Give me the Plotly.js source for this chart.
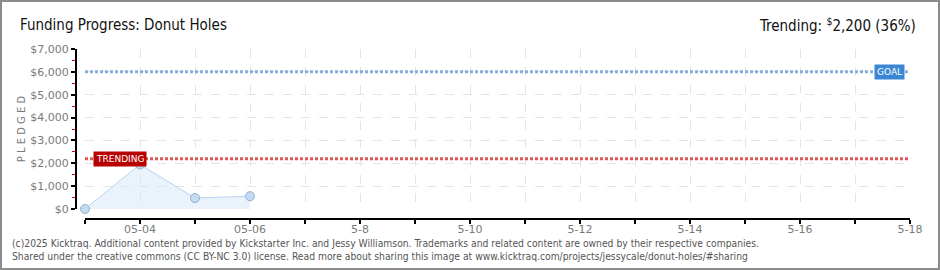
<!DOCTYPE html>
<html>
<head>
<meta charset="utf-8">
<script src="https://cdn.plot.ly/plotly-3.0.1.min.js"></script>
<style>
  html, body { margin: 0; padding: 0; background: #fff; }
  #wrap { position: relative; width: 940px; height: 270px; }
  #chart { width: 940px; height: 270px; }
  #frame { position: absolute; left: 0; top: 0; width: 940px; height: 270px; box-sizing: border-box; border: 2px solid #8c8c8c; pointer-events: none; }
</style>
</head>
<body>
<div id="wrap"><div id="chart"></div><div id="frame"></div></div>
<script>
// ---- data ----
const dates   = ['2025-05-03', '2025-05-04', '2025-05-05', '2025-05-06'];
const pledged = [0, 1950, 480, 560];
const goal = 6000;
const trending = 2200;
const trendingPct = 36;
const axisStart = '2025-05-03';
const axisEnd   = '2025-05-18';
const tickLabels = ['', '05-04', '', '05-06', '', '5-8', '', '5-10', '', '5-12', '', '5-14', '', '5-16', '', '5-18'];
const titleText = 'Funding Progress: Donut Holes';
const footer1 = '(c)2025 Kicktraq. Additional content provided by Kickstarter Inc. and Jessy Williamson. Trademarks and related content are owned by their respective companies.';
const footer2 = 'Shared under the creative commons (CC BY-NC 3.0) license. Read more about sharing this image at www.kicktraq.com/projects/jessycale/donut-holes/#sharing';

// tick positions: one per day
const tickVals = [];
{
  const d = new Date(axisStart + 'T00:00:00Z');
  for (let i = 0; i < tickLabels.length; i++) {
    tickVals.push(d.toISOString().slice(0, 10));
    d.setUTCDate(d.getUTCDate() + 1);
  }
}

const W = 940, H = 270;
const mL = 76, mR = 30, mT = 49, mB = 51;
const plotW = W - mL - mR, plotH = H - mT - mB;

const traces = [
  {
    x: dates, y: pledged, type: 'scatter', mode: 'lines+markers',
    fill: 'tozeroy', fillcolor: 'rgba(214,230,248,0.5)',
    line: { color: '#b9d3f1', width: 1 },
    marker: { size: 9, color: '#c4dbf6', line: { color: '#97afc8', width: 1 } },
    cliponaxis: false, hoverinfo: 'skip'
  },
  {
    x: [axisStart, axisEnd], y: [goal, goal], type: 'scatter', mode: 'lines',
    line: { color: '#86aedc', width: 3, dash: '3px,2px' }, hoverinfo: 'skip'
  },
  {
    x: [axisStart, axisEnd], y: [trending, trending], type: 'scatter', mode: 'lines',
    line: { color: '#dc5a5a', width: 3, dash: '3px,2px' }, hoverinfo: 'skip'
  }
];

const tickFont = { family: 'DejaVu Sans', size: 11, color: '#7a7a7a' };

const layout = {
  width: W, height: H,
  margin: { l: mL, r: mR, t: mT, b: mB, pad: 0 },
  paper_bgcolor: '#fff', plot_bgcolor: '#fff',
  showlegend: false,
  title: {
    text: titleText, x: 20 / W, xanchor: 'left', xref: 'container',
    y: 1 - 25 / H, yanchor: 'middle', yref: 'container',
    font: { family: 'DejaVu Sans Condensed', size: 15, color: '#111' }
  },
  xaxis: {
    type: 'date', range: [axisStart, axisEnd],
    domain: [9 / plotW, 1], anchor: 'free', position: 0,
    tickmode: 'array', tickvals: tickVals, ticktext: tickLabels,
    ticks: 'outside', ticklen: 4, tickwidth: 2, tickcolor: '#000',
    ticklabelstandoff: -4,
    showline: true, linecolor: '#000', linewidth: 2,
    showgrid: true, gridcolor: '#e4e4e4', griddash: 'dash', gridwidth: 1,
    zeroline: false, tickfont: tickFont, fixedrange: true
  },
  yaxis: {
    range: [0, 7000], dtick: 1000, tick0: 0,
    domain: [10 / plotH, 1], anchor: 'free', position: 0,
    tickprefix: '$', tickformat: ',d',
    ticks: 'outside', ticklen: 4, tickwidth: 2, tickcolor: '#000',
    minor: { dtick: 500, ticks: 'outside', ticklen: 3, tickwidth: 1, tickcolor: '#e00000', showgrid: false },
    showline: true, linecolor: '#000', linewidth: 2,
    showgrid: true, gridcolor: '#e4e4e4', griddash: 'dash', gridwidth: 1,
    zeroline: false, tickfont: tickFont, fixedrange: true,
    title: { text: 'P L E D G E D', standoff: 2, font: { family: 'DejaVu Sans', size: 10, color: '#7a7a7a' } }
  },
  annotations: [
    {
      text: 'Trending: <sup>$</sup>' + trending.toLocaleString('en-US') + ' (' + trendingPct + '%)',
      xref: 'paper', yref: 'paper', x: (918 - mL) / plotW, y: 1 + (mT - 25) / plotH,
      xanchor: 'right', yanchor: 'middle', showarrow: false,
      font: { family: 'DejaVu Sans Condensed', size: 15, color: '#111' }
    },
    {
      text: 'GOAL', x: axisEnd, y: goal, xref: 'x', yref: 'y',
      xanchor: 'right', yanchor: 'middle', xshift: -5, showarrow: false,
      bgcolor: '#3b87d5', borderpad: 2,
      font: { family: 'DejaVu Sans', size: 9, color: '#fff' }
    },
    {
      text: 'TRENDING', x: axisStart, y: trending, xref: 'x', yref: 'y',
      xanchor: 'left', yanchor: 'middle', xshift: 8, showarrow: false,
      bgcolor: '#b80000', borderpad: 2,
      font: { family: 'DejaVu Sans', size: 9, color: '#fff' }
    },
    {
      text: footer1, xref: 'paper', yref: 'paper', x: (10 - mL) / plotW, y: -(243 - (H - mB)) / plotH,
      xanchor: 'left', yanchor: 'middle', showarrow: false,
      font: { family: 'DejaVu Sans Condensed', size: 10.25, color: '#555' }
    },
    {
      text: footer2, xref: 'paper', yref: 'paper', x: (10 - mL) / plotW, y: -(256 - (H - mB)) / plotH,
      xanchor: 'left', yanchor: 'middle', showarrow: false,
      font: { family: 'DejaVu Sans Condensed', size: 10.25, color: '#555' }
    }
  ]
};

Plotly.newPlot('chart', traces, layout, { staticPlot: true, displayModeBar: false });
</script>
</body>
</html>
